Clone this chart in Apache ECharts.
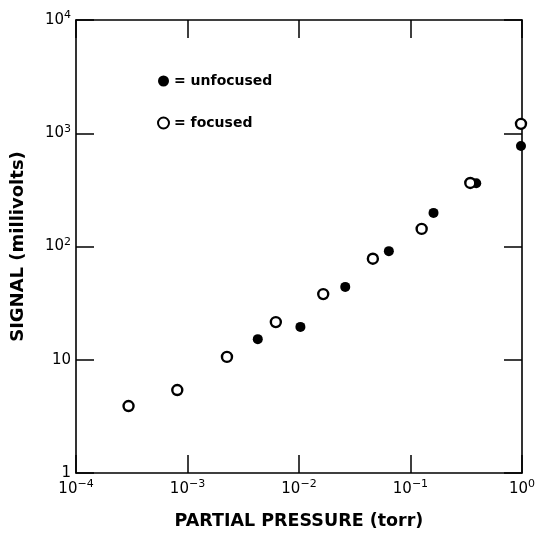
<!DOCTYPE html>
<html><head><meta charset="utf-8">
<script src="https://cdn.jsdelivr.net/npm/echarts@6/dist/echarts.min.js"></script>
<style>html,body{margin:0;padding:0;background:#fff}#c{width:538px;height:535px}</style>
</head><body><div id="c"></div>
<script>
const xTickExponents = [-4, -3, -2, -1, 0];
const yTickLabels = ['1', '10', '10^2', '10^3', '10^4'];
const focusedPressure = [2.96e-4, 8.1e-4, 2.26e-3, 6.2e-3, 0.0165, 0.046, 0.126, 0.344, 0.98];
const focusedSignal   = [3.9, 5.4, 10.6, 21.5, 38, 78, 143, 364, 1210];
const unfocusedPressure = [4.27e-3, 0.0103, 0.026, 0.064, 0.161, 0.389, 0.98];
const unfocusedSignal   = [15.2, 19.5, 44, 91, 198, 362, 771];

const FONT = 'DejaVu Sans';
const pair = (xs, ys) => xs.map((x, i) => [x, ys[i]]);
const rich = {
  b: {fontFamily: FONT, fontSize: 15, color: '#000'},
  s: {fontFamily: FONT, fontSize: 11, color: '#000', verticalAlign: 'bottom', padding: [0, 0, 9, 0]}
};
const fmtX = v => { const e = Math.round(Math.log10(v)); return '{b|10}{s|' + (e < 0 ? '\u2212' + (-e) : e) + '}'; };
const fmtY = v => { const e = Math.round(Math.log10(v)); const l = yTickLabels[e];
  return l.indexOf('^') >= 0 ? '{b|10}{s|' + l.split('^')[1] + '}' : '{b|' + l + '}'; };
const line = {show: true, lineStyle: {color: '#000', width: 1.6}};
const tick = {show: true, inside: true, length: 18, lineStyle: {color: '#000', width: 1.5}};

const chart = echarts.init(document.getElementById('c'));
chart.setOption({
  animation: false,
  backgroundColor: '#fff',
  grid: {left: 76, top: 20, right: 13, bottom: 62},
  legend: {
    orient: 'vertical', left: 152, top: 69, itemGap: 28, itemWidth: 11, itemHeight: 11,
    icon: 'circle',
    formatter: n => '= ' + n,
    textStyle: {fontFamily: FONT, fontSize: 14, fontWeight: 'bold', color: '#000'},
    data: ['unfocused', 'focused']
  },
  xAxis: [
    {type: 'log', logBase: 10, min: 1e-4, max: 1, position: 'bottom',
     name: 'PARTIAL PRESSURE (torr)', nameLocation: 'middle', nameGap: 39,
     nameTextStyle: {fontFamily: FONT, fontSize: 17.5, fontWeight: 'bold', color: '#000'},
     axisLine: line, axisTick: tick, splitLine: {show: false}, minorTick: {show: false},
     axisLabel: {formatter: fmtX, rich: rich, margin: 6}},
    {type: 'log', logBase: 10, min: 1e-4, max: 1, position: 'top',
     axisLine: line, axisTick: tick, splitLine: {show: false}, axisLabel: {show: false}}
  ],
  yAxis: [
    {type: 'log', logBase: 10, min: 1, max: 1e4, position: 'left',
     name: 'SIGNAL (millivolts)', nameLocation: 'middle', nameGap: 49,
     nameTextStyle: {fontFamily: FONT, fontSize: 18, fontWeight: 'bold', color: '#000'},
     axisLine: line, axisTick: tick, splitLine: {show: false},
     axisLabel: {formatter: fmtY, rich: rich, margin: 5}},
    {type: 'log', logBase: 10, min: 1, max: 1e4, position: 'right',
     axisLine: line, axisTick: tick, splitLine: {show: false}, axisLabel: {show: false}}
  ],
  series: [
    {name: 'unfocused', type: 'scatter', symbol: 'circle', symbolSize: 10,
     itemStyle: {color: '#000', borderColor: '#000', borderWidth: 0, opacity: 1},
     data: pair(unfocusedPressure, unfocusedSignal), z: 3},
    {name: 'focused', type: 'scatter', symbol: 'circle', symbolSize: 10,
     itemStyle: {color: '#fff', borderColor: '#000', borderWidth: 2.4, opacity: 1},
     data: pair(focusedPressure, focusedSignal), z: 4}
  ]
});
</script></body></html>
